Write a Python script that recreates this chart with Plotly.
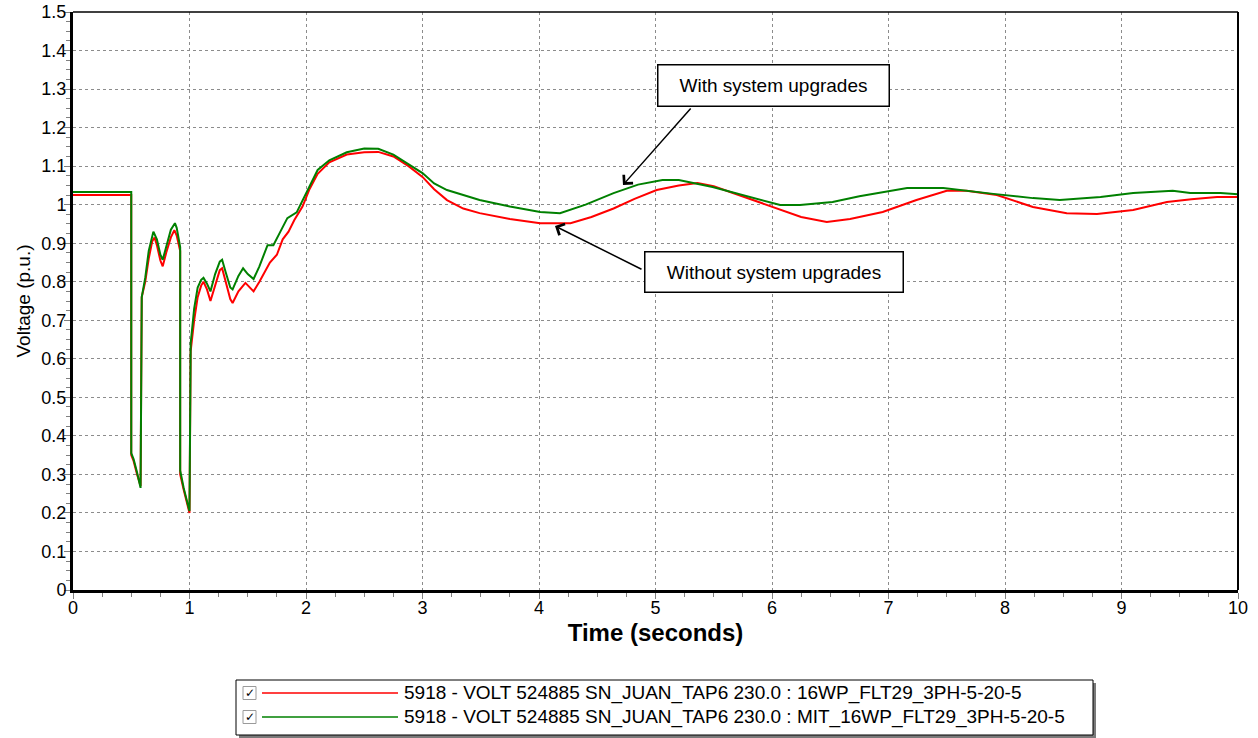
import plotly.graph_objects as go

# ---------------- data ----------------
time_without = [0, 0.5, 0.5, 0.52, 0.55, 0.58, 0.59, 0.62, 0.65, 0.68, 0.70, 0.72, 0.75, 0.77,
                0.80, 0.84, 0.87, 0.89, 0.92, 0.92, 0.95, 0.98, 1.0, 1.01, 1.04, 1.07, 1.10,
                1.12, 1.15, 1.18, 1.22, 1.26, 1.28, 1.31, 1.35, 1.37, 1.42, 1.48, 1.52, 1.55,
                1.60, 1.69, 1.75, 1.80, 1.85, 1.90, 1.97, 2.03, 2.10, 2.20, 2.35, 2.50, 2.62,
                2.75, 2.88, 3.00, 3.10, 3.21, 3.35, 3.49, 3.75, 4.01, 4.27, 4.45, 4.64, 4.82,
                5.01, 5.20, 5.36, 5.50, 5.64, 5.85, 5.96, 6.07, 6.25, 6.47, 6.67, 6.95, 7.24,
                7.50, 7.67, 7.93, 8.24, 8.53, 8.79, 9.10, 9.39, 9.60, 9.82, 10.0]
volt_without = [1.025, 1.025, 0.35, 0.335, 0.30, 0.27, 0.76, 0.80, 0.86, 0.905, 0.915, 0.895,
                0.855, 0.84, 0.875, 0.915, 0.934, 0.92, 0.88, 0.30, 0.26, 0.22, 0.20, 0.62,
                0.70, 0.76, 0.79, 0.80, 0.78, 0.75, 0.79, 0.83, 0.835, 0.80, 0.755, 0.745,
                0.775, 0.797, 0.785, 0.775, 0.80, 0.85, 0.87, 0.91, 0.93, 0.96, 0.995, 1.04,
                1.08, 1.11, 1.13, 1.136, 1.137, 1.125, 1.10, 1.072, 1.04, 1.012, 0.99, 0.978,
                0.963, 0.952, 0.952, 0.968, 0.99, 1.015, 1.038, 1.05, 1.056, 1.048, 1.033,
                1.01, 1.0, 0.986, 0.968, 0.955, 0.963, 0.981, 1.012, 1.036, 1.036, 1.025,
                0.994, 0.978, 0.976, 0.986, 1.007, 1.014, 1.02, 1.02]

time_with = [0, 0.5, 0.5, 0.52, 0.55, 0.58, 0.59, 0.62, 0.65, 0.68, 0.69, 0.72, 0.75, 0.77,
             0.80, 0.84, 0.875, 0.89, 0.92, 0.92, 0.95, 0.98, 1.0, 1.01, 1.04, 1.07, 1.10,
             1.12, 1.15, 1.18, 1.22, 1.26, 1.28, 1.31, 1.35, 1.37, 1.42, 1.46, 1.50, 1.55,
             1.60, 1.67, 1.72, 1.78, 1.84, 1.92, 1.97, 2.03, 2.10, 2.20, 2.35, 2.50, 2.62,
             2.75, 2.88, 3.00, 3.10, 3.21, 3.35, 3.49, 3.75, 4.01, 4.18, 4.40, 4.64, 4.85,
             5.06, 5.20, 5.49, 5.75, 6.07, 6.24, 6.52, 6.75, 6.95, 7.16, 7.47, 7.70, 7.90,
             8.24, 8.47, 8.82, 9.10, 9.44, 9.59, 9.85, 10.0]
volt_with = [1.033, 1.033, 0.355, 0.34, 0.305, 0.265, 0.76, 0.81, 0.88, 0.92, 0.93, 0.91,
             0.87, 0.857, 0.89, 0.935, 0.952, 0.94, 0.89, 0.31, 0.265, 0.225, 0.205, 0.64,
             0.73, 0.785, 0.805, 0.81, 0.795, 0.775, 0.82, 0.852, 0.857, 0.825, 0.785, 0.78,
             0.815, 0.835, 0.82, 0.807, 0.84, 0.895, 0.895, 0.93, 0.965, 0.98, 1.01, 1.046,
             1.09, 1.115, 1.136, 1.146, 1.145, 1.13, 1.105, 1.082, 1.055, 1.038, 1.025,
             1.012, 0.995, 0.981, 0.978, 1.0, 1.03, 1.052, 1.064, 1.064, 1.046, 1.025, 0.999,
             0.999, 1.007, 1.022, 1.033, 1.043, 1.043, 1.036, 1.028, 1.017, 1.012, 1.02,
             1.03, 1.036, 1.03, 1.03, 1.027]

series_names = ["5918 - VOLT 524885 SN_JUAN_TAP6 230.0 : 16WP_FLT29_3PH-5-20-5",
                "5918 - VOLT 524885 SN_JUAN_TAP6 230.0 : MIT_16WP_FLT29_3PH-5-20-5"]
series_colors = ["#FF0000", "#008000"]

x_ticks = list(range(0, 11))
y_ticks = [round(i * 0.1, 1) for i in range(0, 16)]
y_tick_text = ["0"] + ["%.1f" % v for v in y_ticks[1:10]] + ["1"] + ["%.1f" % v for v in y_ticks[11:]]

label_with = "With system upgrades"
label_without = "Without system upgrades"

# ---------------- figure ----------------
W, H = 1258, 738
L, R, T, B = 73, 20, 12, 148
PW, PH = W - L - R, H - T - B
FONT = "Arial, Liberation Sans, Helvetica, sans-serif"


def px_x(px):
    return (px - L) / PW


def px_y(py):
    return (H - B - py) / PH


fig = go.Figure()
for t, v, name, col in [(time_without, volt_without, series_names[0], series_colors[0]),
                        (time_with, volt_with, series_names[1], series_colors[1])]:
    fig.add_trace(go.Scatter(x=t, y=v, mode="lines", name=name,
                             line=dict(color=col, width=2), showlegend=False))

grid_common = dict(gridcolor="#8c8c8c", griddash="3px,3px", gridwidth=1,
                   showline=True, linecolor="black", linewidth=3,
                   ticks="outside", ticklen=6, tickcolor="#808080", tickwidth=1,
                   tickfont=dict(family=FONT, size=18, color="black"),
                   ticklabeloverflow="allow",
                   zeroline=False)

fig.update_xaxes(range=[0, 10], tickvals=x_ticks, ticktext=[str(v) for v in x_ticks],
                 ticklabelstandoff=-7,
                 minor=dict(ticks="outside", ticklen=4, dtick=0.25, tick0=0,
                            tickcolor="#808080", showgrid=False),
                 title=dict(text="<b>Time (seconds)</b>",
                            font=dict(family=FONT, size=24, color="black"),
                            standoff=8),
                 **grid_common)
fig.update_yaxes(range=[0, 1.5], tickvals=y_ticks, ticktext=y_tick_text,
                 ticklabelstandoff=-6,
                 minor=dict(ticks="outside", ticklen=4, dtick=0.025, tick0=0,
                            tickcolor="#808080", showgrid=False),
                 title=dict(text="Voltage (p.u.)",
                            font=dict(family=FONT, size=19, color="black"),
                            standoff=6),
                 **grid_common)

shapes = []
# top and right border of plot area
shapes.append(dict(type="line", xref="paper", yref="paper", x0=0, x1=1, y0=1, y1=1,
                   line=dict(color="black", width=1.5)))
shapes.append(dict(type="line", xref="paper", yref="paper", x0=1, x1=1, y0=0, y1=1,
                   line=dict(color="black", width=2)))

annotations = []
# callout boxes
for label, cx, cy, bw, bh in [(label_with, 773, 86, 216, 26),
                              (label_without, 773.5, 271.5, 243, 25)]:
    annotations.append(dict(xref="paper", yref="paper", x=px_x(cx), y=px_y(cy),
                            text=label, showarrow=False, width=bw, height=bh,
                            font=dict(family=FONT, size=19, color="black"),
                            bgcolor="white", bordercolor="black", borderwidth=1.5,
                            borderpad=7, xanchor="center", yanchor="middle"))
# callout arrows (tip on the curves)
for (sx, sy), (tx, ty) in [((692, 107), (623, 185)), ((643, 270), (555, 226))]:
    annotations.append(dict(xref="paper", yref="paper", axref="pixel", ayref="pixel",
                            x=px_x(tx), y=px_y(ty), ax=sx - tx, ay=sy - ty,
                            text="", showarrow=True, arrowhead=4, arrowsize=1.6,
                            arrowwidth=1.5, arrowcolor="black", standoff=0))

# manual legend box
lx0, lx1, ly0, ly1 = 236, 1093, 680, 735
shapes.append(dict(type="rect", xref="paper", yref="paper",
                   x0=px_x(lx0 + 3), x1=px_x(lx1 + 3), y0=px_y(ly1 + 3), y1=px_y(ly0 + 3),
                   line=dict(width=0), fillcolor="#7a7a7a"))
shapes.append(dict(type="rect", xref="paper", yref="paper",
                   x0=px_x(lx0), x1=px_x(lx1), y0=px_y(ly1), y1=px_y(ly0),
                   line=dict(color="black", width=1), fillcolor="white"))
for i, (name, col) in enumerate(zip(series_names, series_colors)):
    cy = 693 + 24 * i
    shapes.append(dict(type="rect", xref="paper", yref="paper",
                       x0=px_x(243), x1=px_x(256), y0=px_y(cy + 6.5), y1=px_y(cy - 6.5),
                       line=dict(color="#9a9a9a", width=1), fillcolor="white"))
    annotations.append(dict(xref="paper", yref="paper", x=px_x(249.5), y=px_y(cy),
                            text="<b>✓</b>", showarrow=False,
                            font=dict(family="DejaVu Sans", size=12, color="black"),
                            xanchor="center", yanchor="middle"))
    shapes.append(dict(type="line", xref="paper", yref="paper",
                       x0=px_x(262), x1=px_x(398), y0=px_y(cy), y1=px_y(cy),
                       line=dict(color=col, width=1.5)))
    annotations.append(dict(xref="paper", yref="paper", x=px_x(402), y=px_y(cy),
                            text=name, showarrow=False,
                            font=dict(family=FONT, size=19, color="black"),
                            xanchor="left", yanchor="middle"))

fig.update_layout(width=W, height=H, margin=dict(l=L, r=R, t=T, b=B, autoexpand=False),
                  paper_bgcolor="white", plot_bgcolor="white",
                  shapes=shapes, annotations=annotations, showlegend=False)

fig.write_html("out.html", config={"displayModeBar": False},
               post_script="document.body.style.margin='0';document.body.style.overflow='hidden';")
